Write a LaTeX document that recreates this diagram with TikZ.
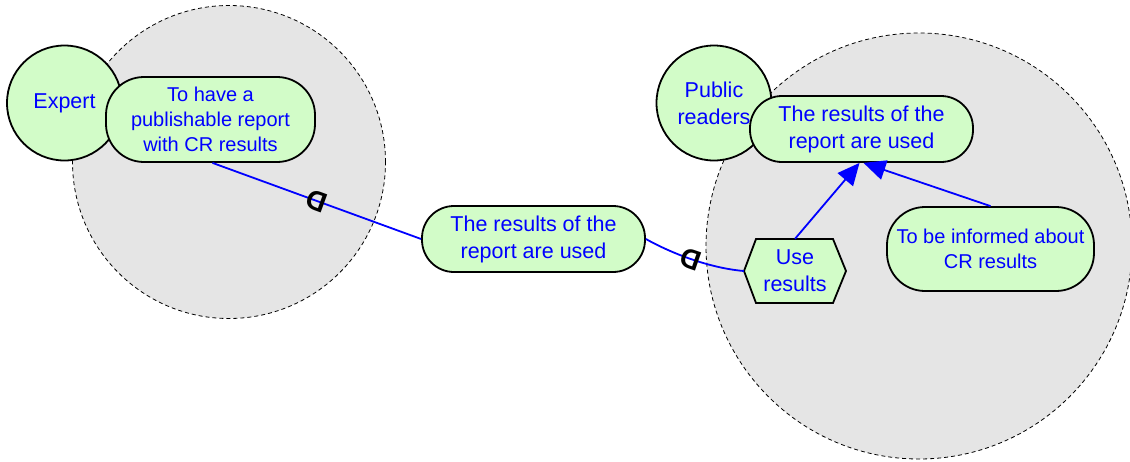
\documentclass[tikz,border=0pt]{standalone}
\usepackage{fontspec}
\setmainfont{Liberation Sans}
\usetikzlibrary{arrows.meta,calc}
\definecolor{elemfill}{RGB}{210,252,200}
\definecolor{boundfill}{RGB}{229,229,229}
\definecolor{ink}{RGB}{0,0,255}
\newcommand\dgbig{\fontsize{21.5}{27}\selectfont}
\newcommand\dgsmall{\fontsize{20}{25}\selectfont}
\newcommand\dgmark{\bfseries\fontsize{28}{28}\selectfont}

\begin{document}
\begin{tikzpicture}[x=1pt,y=-1pt,
  boundary/.style={circle,draw=black,line width=0.8pt,dash pattern=on 4pt off 3pt,
    fill=boundfill,inner sep=0pt},
  actor/.style={circle,draw=black,line width=1.8pt,fill=elemfill,minimum size=115pt,
    inner sep=0pt,text=ink,align=center,font=\dgbig},
  softbox/.style={rectangle,draw=black,line width=1.8pt,fill=elemfill,text=ink,
    align=center,inner sep=0pt},
  link/.style={draw=ink,line width=1.8pt},
  contrib/.style={link,-{Triangle[length=22pt,width=20pt]}},
  depmark/.style={pos=0.5,sloped,rotate=180,font=\dgmark,text=black,inner sep=0pt}
]
\useasboundingbox (0,0) rectangle (1130,461);

% actor boundaries
\node[boundary,minimum size=313pt] (expertb) at (229,162) {};
\node[boundary,minimum size=426pt] (readersb) at (919,246) {};

% actors
\node[actor] (expert) at (64.5,103) {Expert};
\node[actor] (readers) at (714,103) {Public\\readers};

% goals inside the boundaries
\node[softbox,rounded corners=38pt,minimum width=209pt,minimum height=85pt,font=\dgsmall]
  (pubgoal) at (210.5,119.5) {To have a\\publishable report\\with CR results};
\node[softbox,rounded corners=32pt,minimum width=223pt,minimum height=66pt,font=\dgbig]
  (usedgoal) at (861.5,129) {The results of the\\report are used};
\node[softbox,rounded corners=38pt,minimum width=207pt,minimum height=84pt,font=\dgsmall]
  (informed) at (990.5,249) {To be informed about\\CR results};

% dependum between the actors
\node[softbox,rounded corners=32pt,minimum width=223pt,minimum height=66pt,font=\dgbig]
  (dependum) at (533.5,239) {The results of the\\report are used};

% task: hexagon
\coordinate (usec) at (795,271);
\draw[line width=1.8pt,fill=elemfill,line join=miter]
  ($(usec)+(-51,0)$) -- ($(usec)+(-39,-32)$) -- ($(usec)+(38,-32)$) -- ($(usec)+(51,0)$)
  -- ($(usec)+(38,32)$) -- ($(usec)+(-39,32)$) -- cycle;
\node[text=ink,align=center,font=\dgbig,minimum width=102pt,minimum height=64pt,inner sep=0pt]
  (use) at (usec) {Use\\results};

% contributions to the goal
\draw[contrib] (use.north) -- ([xshift=-2pt]usedgoal.south);
\draw[contrib] (informed.north) -- ([xshift=2pt]usedgoal.south);

% dependencies
\draw[link] ([xshift=2pt]pubgoal.south) -- node[depmark] (dep1) {D} (dependum.west);
\draw[link] (dependum.east) .. controls +(25,14) and +(-35,-3) .. node[depmark] (dep2) {D} (use.west);
\end{tikzpicture}
\end{document}
